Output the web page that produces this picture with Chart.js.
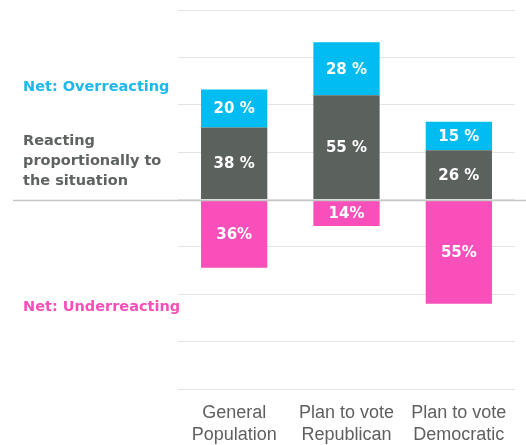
<!DOCTYPE html>
<html>
<head>
<meta charset="utf-8">
<script src="https://cdn.jsdelivr.net/npm/chart.js@4"></script>
<style>
  html, body { margin: 0; padding: 0; background: #fff; }
  #wrap { width: 526px; height: 445px; position: relative; }
</style>
</head>
<body>
<div id="wrap"><canvas id="reactChart"></canvas></div>
<script>
// ── Data ──────────────────────────────────────────────────────────────────────
const groups        = [["General", "Population"], ["Plan to vote", "Republican"], ["Plan to vote", "Democratic"]];
const proportional  = [38, 55, 26];
const overreacting  = [20, 28, 15];
const underreacting = [-36, -14, -55];
const yTicks        = [-100, -75, -50, -25, 0, 25, 50, 75, 100];

// ── Side legend texts (drawn left of the plot) ────────────────────────────────
const sideLabels = [
    { lines: ["Net: Overreacting"], color: "#1cb8ee", y: 87 },
    { lines: ["Reacting", "proportionally to", "the situation"], color: "#5f6360", y: 141 },
    { lines: ["Net: Underreacting"], color: "#f550b9", y: 307 }
];

const boldFont = "bold 14.5px 'DejaVu Sans', sans-serif";

// draws value labels, the long zero line and the left-side texts
const extrasPlugin = {
    id: "extras",
    afterDatasetsDraw(chart) {
        const c = chart.ctx;
        c.save();
        c.font = "bold 15px 'DejaVu Sans', sans-serif";
        c.fillStyle = "#fff";
        c.textAlign = "center";
        c.textBaseline = "middle";
        chart.data.datasets.forEach((ds, i) => {
            chart.getDatasetMeta(i).data.forEach((bar, j) => {
                const v = ds.data[j];
                const txt = v > 0 ? v + " %" : Math.abs(v) + "%";
                c.fillText(txt, bar.x, (bar.y + bar.base) / 2 + 1);
            });
        });
        c.restore();
    },
    afterDraw(chart) {
        const c = chart.ctx;
        const y0 = Math.round(chart.scales.y.getPixelForValue(0)) + 0.5;
        c.save();
        c.strokeStyle = "#c4c6c6";
        c.lineWidth = 1.5;
        c.beginPath();
        c.moveTo(13, y0);
        c.lineTo(526, y0);
        c.stroke();

        c.font = boldFont;
        c.textAlign = "left";
        c.textBaseline = "middle";
        sideLabels.forEach(l => {
            c.fillStyle = l.color;
            l.lines.forEach((t, k) => c.fillText(t, 23, l.y + k * 20));
        });
        c.restore();
    }
};

// ── Chart setup ───────────────────────────────────────────────────────────────
const ctx = document.getElementById("reactChart").getContext("2d");
new Chart(ctx, {
    type: "bar",
    data: {
        labels: groups,
        datasets: [
            { label: "Reacting proportionally", data: proportional, backgroundColor: "#5b615d" },
            { label: "Net: Overreacting", data: overreacting, backgroundColor: "#00bcf1" },
            { label: "Net: Underreacting", data: underreacting, backgroundColor: "#f94fbb" }
        ]
    },
    options: {
        responsive: true,
        maintainAspectRatio: false,
        animation: false,
        layout: { padding: { left: 178, right: 11, top: 10, bottom: -6 } },
        datasets: { bar: { categoryPercentage: 1, barPercentage: 0.59 } },
        plugins: {
            legend: { display: false },
            tooltip: { enabled: false }
        },
        scales: {
            x: {
                stacked: true,
                grid: { display: false },
                border: { display: false },
                ticks: {
                    color: "#5f5f5f",
                    font: { family: "'Liberation Sans', Arial, sans-serif", size: 18, lineHeight: 1.22 },
                    padding: 5,
                    maxRotation: 0
                }
            },
            y: {
                stacked: true,
                min: yTicks[0],
                max: yTicks[yTicks.length - 1],
                afterBuildTicks: axis => { axis.ticks = yTicks.map(v => ({ value: v })); },
                ticks: { display: false },
                grid: { color: "#e4e4e4", lineWidth: 1, drawTicks: false },
                border: { display: false }
            }
        }
    },
    plugins: [extrasPlugin]
});
</script>
</body>
</html>
